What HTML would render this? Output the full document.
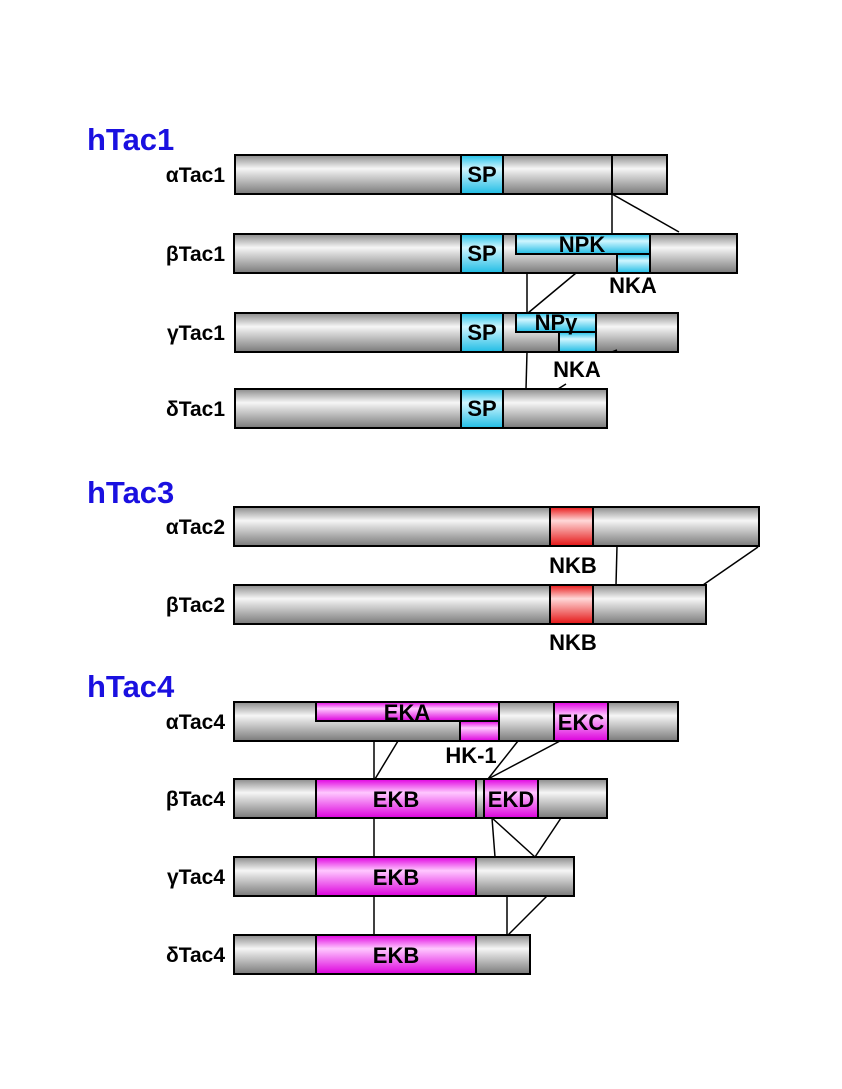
<!DOCTYPE html>
<html><head><meta charset="utf-8"><style>
html,body{margin:0;padding:0;background:#fff;}
svg{display:block;}
text{font-family:"Liberation Sans",Arial,sans-serif;font-weight:bold;}
</style></head><body>
<svg width="842" height="1089" viewBox="0 0 842 1089" xmlns="http://www.w3.org/2000/svg">
<defs>
<linearGradient id="g" x1="0" y1="0" x2="0" y2="1">
<stop offset="0" stop-color="#8a8a8a"/><stop offset="0.35" stop-color="#f6f6f6"/><stop offset="1" stop-color="#7a7a7a"/></linearGradient>
<linearGradient id="c" x1="0" y1="0" x2="0" y2="1">
<stop offset="0" stop-color="#20c0e8"/><stop offset="0.35" stop-color="#d0f6ff"/><stop offset="1" stop-color="#20bce4"/></linearGradient>
<linearGradient id="m" x1="0" y1="0" x2="0" y2="1">
<stop offset="0" stop-color="#e000e0"/><stop offset="0.35" stop-color="#ffc8ff"/><stop offset="1" stop-color="#dc00dc"/></linearGradient>
<linearGradient id="r" x1="0" y1="0" x2="0" y2="1">
<stop offset="0" stop-color="#e81818"/><stop offset="0.35" stop-color="#ffd8d8"/><stop offset="1" stop-color="#e41414"/></linearGradient>
</defs>
<g stroke="#000" stroke-width="2">
<rect x="235" y="155" width="432" height="39" fill="url(#g)"/>
<rect x="461" y="155" width="42" height="39" fill="url(#c)"/>
<line x1="612" y1="155" x2="612" y2="194"/>

<rect x="234" y="234" width="503" height="39" fill="url(#g)"/>
<rect x="461" y="234" width="42" height="39" fill="url(#c)"/>
<rect x="516" y="234" width="134" height="20" fill="url(#c)"/>
<rect x="617" y="254" width="33" height="19" fill="url(#c)"/>

<rect x="235" y="313" width="443" height="39" fill="url(#g)"/>
<rect x="461" y="313" width="42" height="39" fill="url(#c)"/>
<rect x="516" y="313" width="80" height="19" fill="url(#c)"/>
<rect x="559" y="332" width="37" height="20" fill="url(#c)"/>

<rect x="235" y="389" width="372" height="39" fill="url(#g)"/>
<rect x="461" y="389" width="42" height="39" fill="url(#c)"/>

<rect x="234" y="507" width="525" height="39" fill="url(#g)"/>
<rect x="550" y="507" width="43" height="39" fill="url(#r)"/>
<rect x="234" y="585" width="472" height="39" fill="url(#g)"/>
<rect x="550" y="585" width="43" height="39" fill="url(#r)"/>

<rect x="234" y="702" width="444" height="39" fill="url(#g)"/>
<rect x="316" y="702" width="183" height="19" fill="url(#m)"/>
<rect x="460" y="721" width="39" height="20" fill="url(#m)"/>
<rect x="554" y="702" width="54" height="39" fill="url(#m)"/>

<rect x="234" y="779" width="373" height="39" fill="url(#g)"/>
<rect x="316" y="779" width="160" height="39" fill="url(#m)"/>
<rect x="484" y="779" width="54" height="39" fill="url(#m)"/>

<rect x="234" y="857" width="340" height="39" fill="url(#g)"/>
<rect x="316" y="857" width="160" height="39" fill="url(#m)"/>

<rect x="234" y="935" width="296" height="39" fill="url(#g)"/>
<rect x="316" y="935" width="160" height="39" fill="url(#m)"/>
</g>
<g stroke="#000" stroke-width="1.5" fill="none">
<line x1="612" y1="194" x2="612" y2="234"/>
<line x1="612" y1="194" x2="679" y2="232"/>
<line x1="527" y1="273" x2="527" y2="313"/>
<line x1="576" y1="273" x2="528" y2="313"/>
<line x1="527" y1="352" x2="526" y2="389"/>
<line x1="612" y1="352" x2="617" y2="350"/>
<line x1="558" y1="389" x2="566" y2="384"/>
<line x1="617" y1="546" x2="616" y2="585"/>
<line x1="758" y1="547" x2="703" y2="585"/>
<line x1="374" y1="741" x2="374" y2="779"/>
<line x1="398" y1="741" x2="375" y2="779"/>
<line x1="518" y1="741" x2="488" y2="779"/>
<line x1="560" y1="741" x2="488" y2="779"/>
<line x1="374" y1="818" x2="374" y2="857"/>
<line x1="492" y1="818" x2="495" y2="857"/>
<line x1="492" y1="818" x2="535" y2="857"/>
<line x1="561" y1="818" x2="535" y2="857"/>
<line x1="374" y1="896" x2="374" y2="935"/>
<line x1="507" y1="896" x2="507" y2="935"/>
<line x1="547" y1="896" x2="508" y2="935"/>
</g>
<g fill="#1a10e0" font-size="31">
<text x="87" y="150">hTac1</text>
<text x="87" y="503">hTac3</text>
<text x="87" y="697">hTac4</text>
</g>
<g fill="#000" font-size="21" text-anchor="end">
<text x="225" y="182">αTac1</text>
<text x="225" y="261">βTac1</text>
<text x="225" y="340">γTac1</text>
<text x="225" y="416">δTac1</text>
<text x="225" y="534">αTac2</text>
<text x="225" y="612">βTac2</text>
<text x="225" y="729">αTac4</text>
<text x="225" y="806">βTac4</text>
<text x="225" y="884">γTac4</text>
<text x="225" y="962">δTac4</text>
</g>
<g fill="#000" font-size="22" text-anchor="middle">
<text x="482" y="182">SP</text>
<text x="482" y="261">SP</text>
<text x="482" y="340">SP</text>
<text x="482" y="416">SP</text>
<text x="582" y="252">NPK</text>
<text x="633" y="293">NKA</text>
<text x="556" y="330">NPγ</text>
<text x="577" y="377">NKA</text>
<text x="573" y="573">NKB</text>
<text x="573" y="650">NKB</text>
<text x="407" y="720">EKA</text>
<text x="471" y="763">HK-1</text>
<text x="581" y="730">EKC</text>
<text x="396" y="807">EKB</text>
<text x="511" y="807">EKD</text>
<text x="396" y="885">EKB</text>
<text x="396" y="963">EKB</text>
</g>
</svg>
</body></html>
